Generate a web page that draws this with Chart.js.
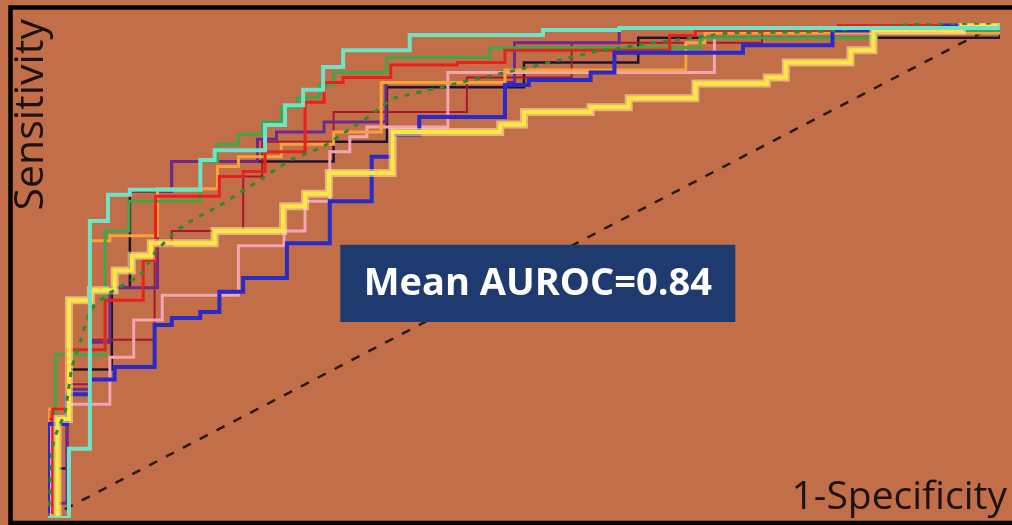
<!DOCTYPE html>
<html>
<head>
<meta charset="utf-8">
<title>ROC curves</title>
<script src="https://cdn.jsdelivr.net/npm/chart.js@4.4.1/dist/chart.umd.min.js"></script>
<style>
  html, body { margin: 0; padding: 0; background: #c26e48; }
  canvas { display: block; }
</style>
</head>
<body>
<canvas id="roc" width="1012" height="525"></canvas>
<script>
// each curve: corner points, fpr = 1-specificity, tpr = sensitivity
const cyanFpr = [0, 0.022, 0.044, 0.063, 0.086, 0.16, 0.175, 0.228, 0.249, 0.268, 0.289, 0.31, 0.38, 0.52, 0.6, 1, 1];
const cyanTpr = [0, 0, 0.14, 0.6, 0.653, 0.663, 0.723, 0.743, 0.794, 0.834, 0.865, 0.911, 0.945, 0.976, 0.986, 0.99, 1];

const greenFpr = [0, 0.008, 0.06, 0.085, 0.16, 0.178, 0.2, 0.225, 0.245, 0.262, 0.285, 0.3, 0.356, 0.464, 0.685, 0.87, 1, 1];
const greenTpr = [0, 0, 0.33, 0.58, 0.64, 0.72, 0.755, 0.775, 0.8, 0.83, 0.85, 0.875, 0.9, 0.931, 0.95, 0.97, 0.985, 1];

const redFpr = [0, 0.005, 0.02, 0.06, 0.1, 0.113, 0.18, 0.205, 0.228, 0.27, 0.29, 0.31, 0.36, 0.43, 0.48, 0.653, 0.68, 0.83, 1, 1];
const redTpr = [0, 0, 0.22, 0.34, 0.44, 0.52, 0.65, 0.69, 0.7, 0.74, 0.84, 0.88, 0.89, 0.915, 0.92, 0.945, 0.975, 0.985, 0.995, 1];

const crimsonFpr = [0, 0.02, 0.044, 0.112, 0.13, 0.205, 0.225, 0.3, 0.44, 0.55, 0.75, 1, 1];
const crimsonTpr = [0, 0.2, 0.27, 0.36, 0.55, 0.58, 0.69, 0.76, 0.82, 0.89, 0.96, 0.985, 1];

const purpleFpr = [0, 0.02, 0.044, 0.065, 0.115, 0.13, 0.22, 0.24, 0.29, 0.355, 0.49, 0.6, 1, 1];
const purpleTpr = [0, 0.03, 0.26, 0.355, 0.465, 0.66, 0.72, 0.765, 0.78, 0.8, 0.88, 0.96, 0.99, 1];

const blueFpr = [0, 0.02, 0.044, 0.07, 0.112, 0.13, 0.16, 0.18, 0.205, 0.251, 0.296, 0.34, 0.362, 0.39, 0.48, 0.505, 0.57, 0.595, 0.73, 0.824, 0.938, 1, 1];
const blueTpr = [0, 0.19, 0.25, 0.28, 0.305, 0.39, 0.404, 0.416, 0.457, 0.485, 0.555, 0.64, 0.73, 0.775, 0.81, 0.875, 0.885, 0.9, 0.94, 0.955, 0.985, 0.995, 1];

const yellowFpr = [0, 0.01, 0.022, 0.045, 0.07, 0.088, 0.108, 0.175, 0.247, 0.27, 0.295, 0.362, 0.475, 0.5, 0.57, 0.61, 0.68, 0.755, 0.775, 0.843, 0.867, 0.96, 1, 1];
const yellowTpr = [0, 0, 0.2, 0.44, 0.46, 0.5, 0.53, 0.555, 0.58, 0.63, 0.655, 0.697, 0.78, 0.795, 0.82, 0.83, 0.848, 0.878, 0.89, 0.92, 0.945, 0.985, 0.995, 1];

const orangeFpr = [0, 0.022, 0.044, 0.065, 0.115, 0.178, 0.2, 0.245, 0.3, 0.35, 0.48, 0.67, 0.69, 1, 1];
const orangeTpr = [0, 0.22, 0.44, 0.56, 0.57, 0.665, 0.71, 0.73, 0.755, 0.78, 0.88, 0.905, 0.96, 0.98, 1];

const pinkFpr = [0, 0.002, 0.02, 0.065, 0.09, 0.12, 0.2, 0.248, 0.27, 0.296, 0.317, 0.335, 0.42, 0.7, 1, 1];
const pinkTpr = [0, 0, 0.19, 0.23, 0.325, 0.4, 0.45, 0.55, 0.58, 0.64, 0.74, 0.77, 0.79, 0.9, 0.99, 1];

const blackFpr = [0, 0.005, 0.02, 0.067, 0.086, 0.13, 0.3, 0.356, 0.5, 0.62, 1, 1];
const blackTpr = [0, 0, 0.1, 0.3, 0.465, 0.66, 0.72, 0.76, 0.87, 0.92, 0.97, 1];

// mean curve (dashed green)
const meanFpr = [0, 0.002, 0.004, 0.007, 0.018, 0.025, 0.032, 0.044, 0.055, 0.065, 0.083, 0.097, 0.114, 0.136, 0.152, 0.181, 0.223, 0.254, 0.288, 0.335, 0.362, 0.401, 0.436, 0.506, 0.572, 0.636, 0.716, 0.804, 0.913, 1];
const meanTpr = [0, 0.042, 0.137, 0.164, 0.212, 0.305, 0.345, 0.42, 0.44, 0.455, 0.475, 0.49, 0.541, 0.582, 0.602, 0.632, 0.683, 0.723, 0.749, 0.808, 0.848, 0.865, 0.881, 0.911, 0.941, 0.96, 0.98, 0.982, 0.998, 1];

// chance line
const chanceFpr = [0, 1];
const chanceTpr = [0, 1];

const labelText = 'Mean AUROC=0.84';
const xTitle = '1-Specificity';
const yTitle = 'Sensitivity';

const bg = '#c26e48';

const toPoints = (fpr, tpr) => fpr.map((v, i) => ({x: v, y: tpr[i]}));

const curve = (fpr, tpr, color, width, extra) => Object.assign({
  data: toPoints(fpr, tpr),
  borderColor: color,
  borderWidth: width,
  stepped: 'after',
  showLine: true,
  pointRadius: 0,
  fill: false
}, extra || {});

const decor = {
  id: 'decor',
  beforeDraw(chart) {
    const ctx = chart.ctx;
    ctx.save();
    ctx.fillStyle = bg;
    ctx.fillRect(0, 0, chart.width, chart.height);
    ctx.restore();
  },
  afterDatasetsDraw(chart) {
    const ctx = chart.ctx;
    const x = chart.scales.x, y = chart.scales.y;
    // label box
    const l = x.getPixelForValue(0.307), r = x.getPixelForValue(0.722);
    const t = y.getPixelForValue(0.552), b = y.getPixelForValue(0.396);
    ctx.save();
    ctx.fillStyle = '#1f3a6e';
    ctx.fillRect(l, t, r - l, b - t);
    ctx.fillStyle = '#ffffff';
    ctx.font = 'bold 38px "Open Sans"';
    ctx.textAlign = 'center';
    ctx.textBaseline = 'alphabetic';
    ctx.fillText(labelText, (l + r) / 2, b - 27);

    // axis titles
    ctx.fillStyle = '#1c1210';
    ctx.font = '39px "Open Sans"';
    ctx.textAlign = 'right';
    ctx.fillText(xTitle, 1007, 509);
    ctx.font = '41px "Open Sans"';
    ctx.translate(43, 19);
    ctx.rotate(-Math.PI / 2);
    ctx.fillText(yTitle, 0, 0);
    ctx.restore();
  },
  afterDraw(chart) {
    const ctx = chart.ctx;
    ctx.save();
    ctx.strokeStyle = '#000000';
    ctx.lineWidth = 4.5;
    ctx.strokeRect(10.5, 7.5, 1012, 515.5);
    ctx.restore();
  }
};

new Chart(document.getElementById('roc'), {
  type: 'scatter',
  data: {
    datasets: [
      curve(cyanFpr, cyanTpr, '#6fe2c8', 4),
      curve(meanFpr, meanTpr, '#2f8a2c', 3, {stepped: false, borderDash: [5, 7]}),
      curve(yellowFpr, yellowTpr, '#ffe640', 4),
      curve(yellowFpr, yellowTpr, 'rgba(255, 244, 170, 0.55)', 8),
      curve(blueFpr, blueTpr, '#2a2ac8', 4),
      curve(redFpr, redTpr, '#e8221b', 3),
      curve(greenFpr, greenTpr, '#3ca84a', 3),
      curve(orangeFpr, orangeTpr, '#f7a23a', 3),
      curve(pinkFpr, pinkTpr, '#f2a5b5', 3),
      curve(purpleFpr, purpleTpr, '#6a2a8e', 3),
      curve(crimsonFpr, crimsonTpr, '#a8182e', 2),
      curve(blackFpr, blackTpr, '#1e1535', 2.5),
      curve(chanceFpr, chanceTpr, '#2a1a12', 2.5, {stepped: false, borderDash: [9, 10]})
    ]
  },
  options: {
    responsive: false,
    animation: false,
    devicePixelRatio: 1,
    layout: { padding: { left: 48, right: 12, top: 23, bottom: 7 } },
    scales: {
      x: { type: 'linear', min: 0, max: 1, display: false },
      y: { type: 'linear', min: 0, max: 1, display: false }
    },
    plugins: {
      legend: { display: false },
      tooltip: { enabled: false }
    },
    elements: { line: { tension: 0, borderJoinStyle: 'miter' } }
  },
  plugins: [decor]
});
</script>
</body>
</html>
